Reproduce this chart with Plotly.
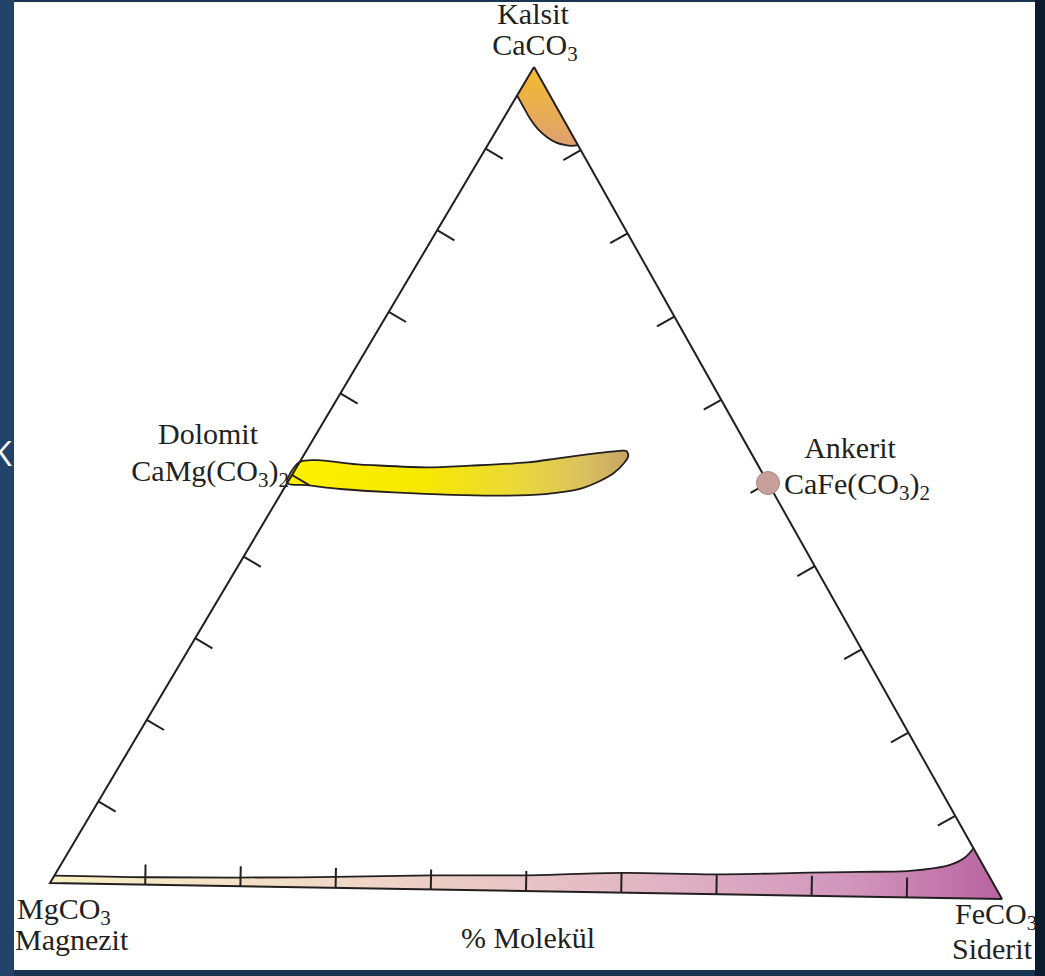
import plotly.graph_objects as go

# Carbonate ternary diagram CaCO3 - MgCO3 - FeCO3 (mol %)
# Each field is given as (CaCO3 %, FeCO3 %); MgCO3 is the remainder.

# calcite field: apex, then the lower boundary from the Ca-Mg side to the Ca-Fe side
CALCITE_CA = [100.0, 96.5, 95.1, 93.7, 92.5, 91.5, 90.9, 90.6, 90.5, 90.6]
CALCITE_FE = [0.0, 0.0, 1.4, 2.8, 4.2, 5.7, 6.9, 8.0, 8.8, 9.4]

# dolomite - ankerite field: upper boundary, rounded Fe-rich end, lower boundary
DOLOMITE_CA = [51.6, 51.4, 51.2, 51.5, 52.0, 52.6, 53.2, 53.6, 53.6, 53.0,
               52.1, 50.8, 49.9, 48.9, 48.2, 47.9, 48.1, 48.4, 48.8, 49.0]
DOLOMITE_FE = [0.0, 6.5, 13.6, 18.0, 23.7, 26.8, 30.0, 32.6, 33.3, 33.8,
               33.8, 33.3, 32.4, 30.8, 27.5, 22.2, 11.6, 5.9, 2.2, 0.0]

# magnesite - siderite series: upper (Ca-rich) boundary from Mg side to Fe side
MAGSID_CA = [0.9, 0.9, 1.2, 1.7, 1.9, 2.4, 2.4, 2.8, 3.0, 3.2, 3.6, 4.1, 5.0, 6.1]
MAGSID_FE = [0.0, 10.0, 25.6, 39.2, 48.9, 59.0, 68.6, 78.4, 83.6, 88.4, 91.1, 92.6, 93.6, 93.9]

ANKERITE_CA = [50.0]
ANKERITE_FE = [50.0]

TICKS = [10, 20, 30, 40, 50, 60, 70, 80, 90]

# Placement of the three end members on the axes (axis units = screen px)
CORNER = {"Ca": (534.0, 67.0), "Mg": (50.0, 883.0), "Fe": (1002.0, 899.0)}
TICK_LEN = 20.0
INK = "#231f20"
FONT = dict(family="Liberation Serif", size=30, color=INK)


def to_xy(ca, fe):
    xs, ys = [], []
    for c, f in zip(ca, fe):
        m = 100.0 - c - f
        xs.append((c * CORNER["Ca"][0] + m * CORNER["Mg"][0] + f * CORNER["Fe"][0]) / 100.0)
        ys.append((c * CORNER["Ca"][1] + m * CORNER["Mg"][1] + f * CORNER["Fe"][1]) / 100.0)
    return xs, ys


fig = go.Figure()

# --- magnesite-siderite band: fill down to the Mg-Fe side, then its curved boundary ---
bx, by = to_xy(MAGSID_CA + [0.0, 0.0], MAGSID_FE + [100.0, 0.0])
fig.add_trace(go.Scatter(
    x=bx, y=by, mode="lines", fill="toself", line=dict(width=0),
    fillgradient=dict(type="horizontal", colorscale=[
        [0.0, "#f8f0c2"], [0.3, "#f0d9c7"], [0.6, "#e3b9c5"],
        [0.85, "#d094bb"], [1.0, "#b9629f"]]),
    hoverinfo="skip"))
x, y = to_xy(MAGSID_CA, MAGSID_FE)
fig.add_trace(go.Scatter(x=x, y=y, mode="lines",
                         line=dict(color=INK, width=1.8, shape="spline", smoothing=1),
                         hoverinfo="skip"))

# --- dolomite - ankerite field ---
x, y = to_xy(DOLOMITE_CA, DOLOMITE_FE)
fig.add_trace(go.Scatter(
    x=x + [x[0]], y=y + [y[0]], mode="lines", fill="toself",
    line=dict(color=INK, width=1.8, shape="spline", smoothing=0.8),
    fillgradient=dict(type="horizontal", colorscale=[
        [0.0, "#fff200"], [0.4, "#f7e800"], [0.7, "#e8d640"],
        [0.88, "#d9c060"], [1.0, "#c6a462"]]),
    hoverinfo="skip"))

# --- calcite field: fill, then its curved lower boundary ---
x, y = to_xy(CALCITE_CA, CALCITE_FE)
fig.add_trace(go.Scatter(
    x=x + [x[0]], y=y + [y[0]], mode="lines", fill="toself", line=dict(width=0),
    fillgradient=dict(type="vertical", colorscale=[
        [0.0, "#dfa072"], [1.0, "#f3bd2c"]]),
    hoverinfo="skip"))
fig.add_trace(go.Scatter(x=x[1:], y=y[1:], mode="lines",
                         line=dict(color=INK, width=1.8, shape="spline", smoothing=1),
                         hoverinfo="skip"))

# --- triangle frame ---
x, y = to_xy([100, 0, 0, 100], [0, 0, 100, 0])
fig.add_trace(go.Scatter(x=x, y=y, mode="lines",
                         line=dict(color=INK, width=2), hoverinfo="skip"))

# --- inward ticks on every edge ---
cx = sum(p[0] for p in CORNER.values()) / 3.0
cy = sum(p[1] for p in CORNER.values()) / 3.0
tx, ty = [], []
for a, b in (("Mg", "Ca"), ("Ca", "Fe"), ("Mg", "Fe")):
    (ax, ay), (bx_, by_) = CORNER[a], CORNER[b]
    ex, ey = bx_ - ax, by_ - ay
    ln = (ex * ex + ey * ey) ** 0.5
    nx, ny = -ey / ln, ex / ln
    if (cx - ax) * nx + (cy - ay) * ny < 0:
        nx, ny = -nx, -ny
    for t in TICKS:
        px, py = ax + ex * t / 100.0, ay + ey * t / 100.0
        tx += [px, px + nx * TICK_LEN, None]
        ty += [py, py + ny * TICK_LEN, None]
fig.add_trace(go.Scatter(x=tx, y=ty, mode="lines",
                         line=dict(color=INK, width=2), hoverinfo="skip"))

# --- ankerite end member ---
x, y = to_xy(ANKERITE_CA, ANKERITE_FE)
fig.add_trace(go.Scatter(x=x, y=y, mode="markers",
                         marker=dict(size=23, color="#c8a09b",
                                     line=dict(color="#a58480", width=1)),
                         hoverinfo="skip"))

# --- labels, placed relative to their end members ---
# (text, composition anchor, offset, text position, clipped at the page edge)
LABELS = [
    ("Kalsit", (100, 0), (-1, -51), "middle center", False),
    ("CaCO<sub>3</sub>", (100, 0), (1, -20), "middle center", False),
    ("Dolomit", (50, 0), (-84, -39), "middle center", False),
    ("CaMg(CO<sub>3</sub>)<sub>2</sub>", (50, 0), (-3, -2), "middle left", False),
    ("Ankerit", (50, 50), (82, -33), "middle center", False),
    ("CaFe(CO<sub>3</sub>)<sub>2</sub>", (50, 50), (16, 3), "middle right", False),
    ("MgCO<sub>3</sub>", (0, 0), (-33, 28), "middle right", True),
    ("Magnezit", (0, 0), (-35, 59), "middle right", True),
    ("FeCO<sub>3</sub>", (0, 100), (-47, 17), "middle right", True),
    ("Siderit", (0, 100), (-50, 52), "middle right", True),
    ("% Molekül", (0, 50), (2, 49), "middle center", False),
]
for clipped in (False, True):
    lx, ly, lt, lp = [], [], [], []
    for text, (ca, fe), (dx, dy), pos, clip in LABELS:
        if clip != clipped:
            continue
        px, py = to_xy([ca], [fe])
        lx.append(px[0] + dx)
        ly.append(py[0] + dy)
        lt.append(text)
        lp.append(pos)
    fig.add_trace(go.Scatter(x=lx, y=ly, mode="text", text=lt, textposition=lp,
                             textfont=FONT, cliponaxis=clipped, hoverinfo="skip"))

fig.update_layout(
    width=1045, height=976,
    margin=dict(l=14, r=10, t=2, b=6, pad=0),
    paper_bgcolor="#183553", plot_bgcolor="#ffffff",
    showlegend=False,
    xaxis=dict(range=[14, 1035], visible=False, fixedrange=True),
    yaxis=dict(range=[970, 2], visible=False, fixedrange=True),
    shapes=[
        dict(type="rect", xref="paper", yref="paper", x0=1.0, x1=1.02,
             y0=-0.02, y1=1.02, fillcolor="#0c1b2b", line=dict(width=0),
             layer="below"),
        dict(type="rect", xref="paper", yref="paper", x0=-0.02, x1=0.0,
             y0=-0.02, y1=1.02, fillcolor="#21436a", line=dict(width=0),
             layer="below"),
    ],
    annotations=[
        dict(text="K", xref="paper", yref="y", x=0.0, y=453, xanchor="right",
             yanchor="middle", showarrow=False,
             font=dict(family="Open Sans", size=34, color="#ffffff")),
    ],
)

fig.write_html("out.html")
